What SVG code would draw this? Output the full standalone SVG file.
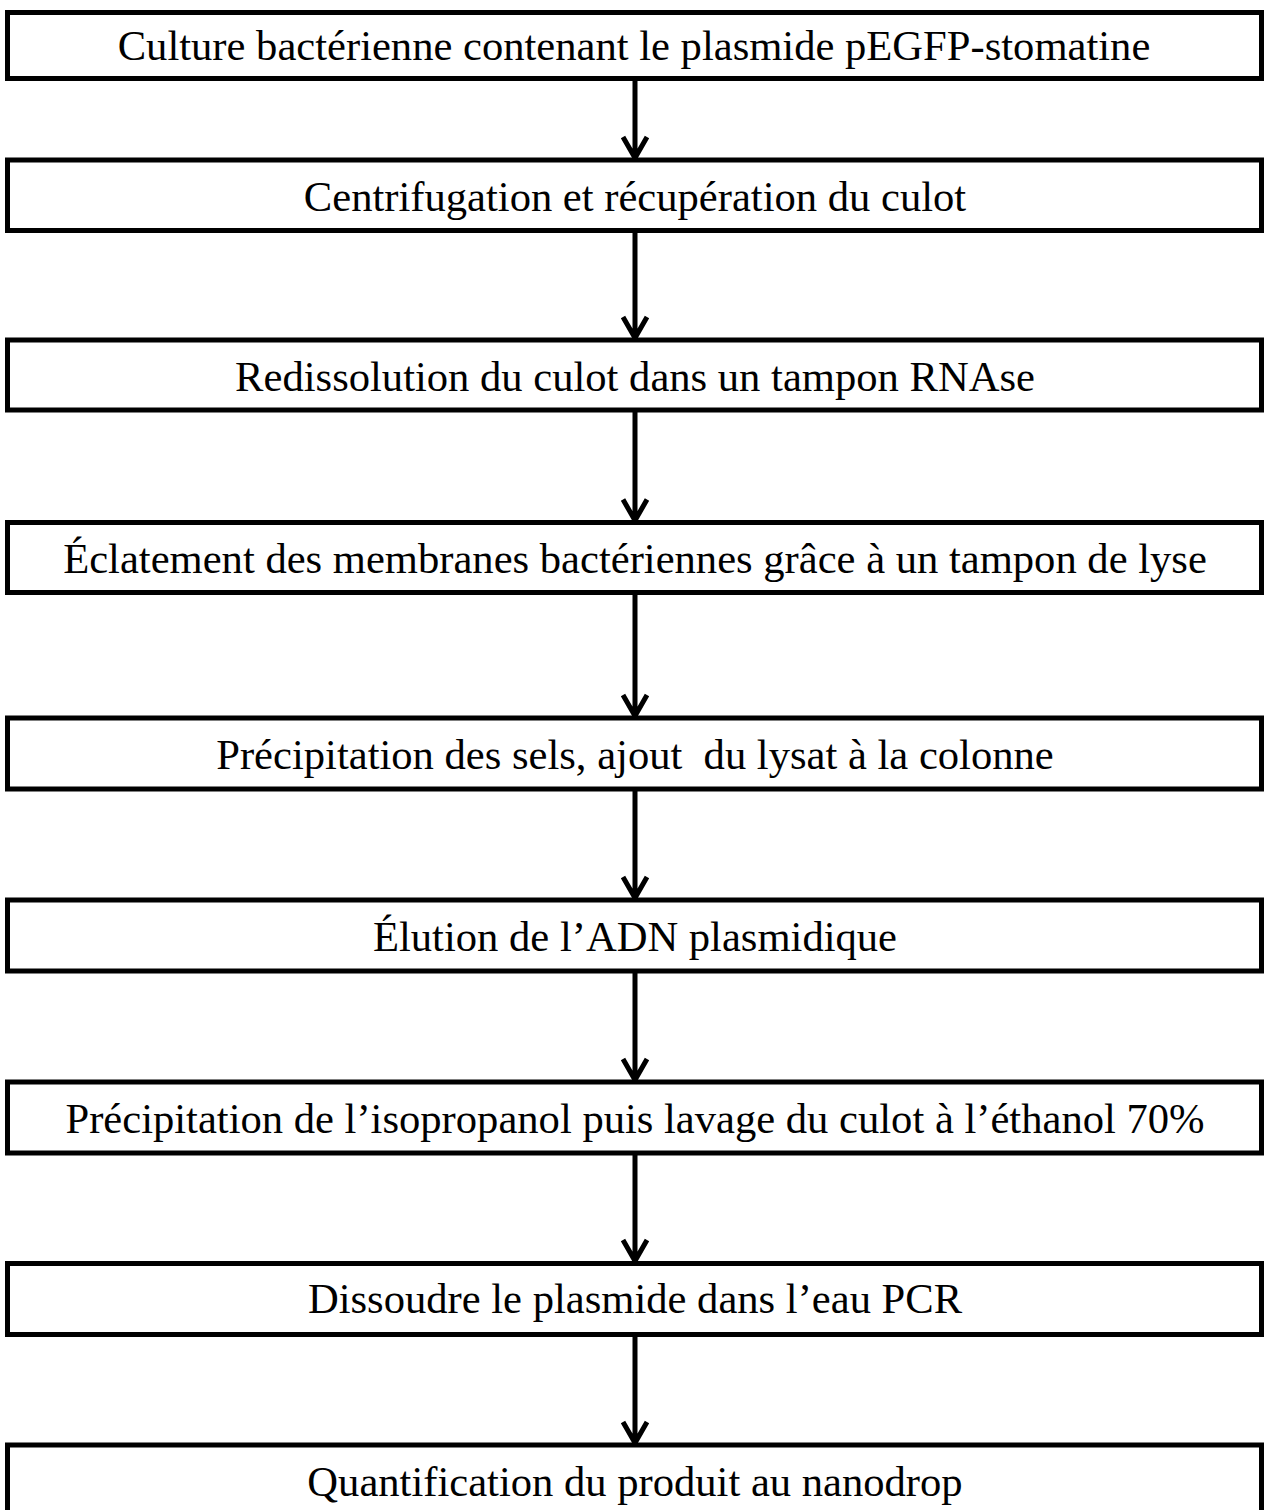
<svg xmlns="http://www.w3.org/2000/svg" width="1269" height="1510" viewBox="0 0 1269 1510">
<style>
.box{fill:#fff;stroke:#000;stroke-width:5}
.t{font-family:"Liberation Serif","Times New Roman",serif;font-size:42.6px;fill:#000;text-anchor:middle}
.c{stroke:#000;stroke-width:5;fill:none}
</style>
<rect width="1269" height="1510" fill="#fff"/>
<g id="connectors">
<path class="c" d="M635 78.5V158M623 137L635 158L647 137"/>
<path class="c" d="M635 230.5V338M623 317L635 338L647 317"/>
<path class="c" d="M635 410V520.5M623 499.5L635 520.5L647 499.5"/>
<path class="c" d="M635 592.5V716M623 695L635 716L647 695"/>
<path class="c" d="M635 789V898M623 877L635 898L647 877"/>
<path class="c" d="M635 971V1080M623 1059L635 1080L647 1059"/>
<path class="c" d="M635 1153V1261M623 1240L635 1261L647 1240"/>
<path class="c" d="M635 1335V1443M623 1422L635 1443L647 1422"/>
</g>
<g id="n1"><rect class="box" x="7.5" y="12.5" width="1254" height="66"/><text class="t" x="634" y="60">Culture bactérienne contenant le plasmide pEGFP-stomatine</text></g>
<g id="n2"><rect class="box" x="7.5" y="160" width="1254" height="70.5"/><text class="t" x="635" y="211">Centrifugation et récupération du culot</text></g>
<g id="n3"><rect class="box" x="7.5" y="340" width="1254" height="70"/><text class="t" x="635" y="391">Redissolution du culot dans un tampon RNAse</text></g>
<g id="n4"><rect class="box" x="7.5" y="522.5" width="1254" height="70"/><text class="t" x="635" y="573">Éclatement des membranes bactériennes grâce à un tampon de lyse</text></g>
<g id="n5"><rect class="box" x="7.5" y="718" width="1254" height="71"/><text class="t" x="635" y="769" xml:space="preserve">Précipitation des sels, ajout  du lysat à la colonne</text></g>
<g id="n6"><rect class="box" x="7.5" y="900" width="1254" height="71"/><text class="t" x="635" y="951">Élution de l’ADN plasmidique</text></g>
<g id="n7"><rect class="box" x="7.5" y="1082" width="1254" height="71"/><text class="t" x="635" y="1133">Précipitation de l’isopropanol puis lavage du culot à l’éthanol 70%</text></g>
<g id="n8"><rect class="box" x="7.5" y="1263.5" width="1254" height="71"/><text class="t" x="635" y="1313">Dissoudre le plasmide dans l’eau PCR</text></g>
<g id="n9"><rect class="box" x="7.5" y="1445" width="1254" height="80"/><text class="t" x="635" y="1496">Quantification du produit au nanodrop</text></g>
</svg>
